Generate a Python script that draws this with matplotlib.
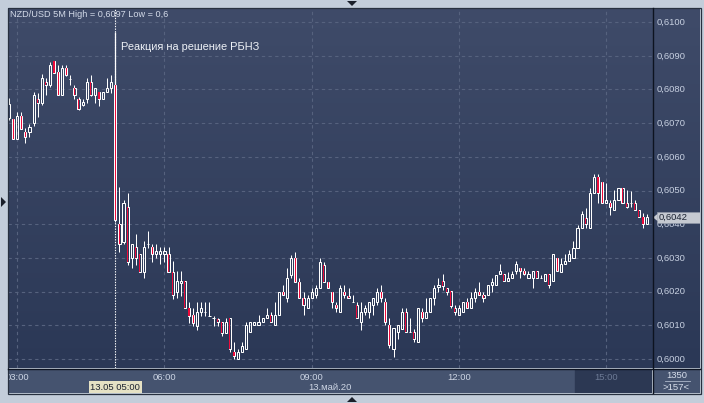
import numpy as np
import matplotlib
matplotlib.use("Agg")
import matplotlib.pyplot as plt
from matplotlib.colors import LinearSegmentedColormap
from matplotlib.patches import Polygon, Rectangle

# ---------------- data ----------------
symbol = "NZD/USD 5M"
header_high = 0.6097
header_low = 0.6
base_price = 0.6000          # prices below are given in pips above this level
start_time = "02:50"         # time of the first bar
bar_minutes = 5

open_pips = [
    71.5, 71.2, 65.3, 72.1, 67.4, 67.4, 70.0, 77.2, 76.0, 82.2,
    81.3, 88.4, 85.2, 78.3, 86.4, 83.1, 80.4, 77.2, 75.4, 77.2,
    82.2, 78.3, 79.2, 77.2, 79.2, 80.4, 81.3, 40.1, 34.7, 45.1,
    30.0, 33.2, 31.2, 25.8, 34.1, 33.2, 31.2, 31.2, 31.2, 31.2,
    25.8, 19.9, 22.6, 23.1, 15.1, 13.1, 9.8, 13.9, 13.9, 12.8,
    12.2, 11.9, 11.0, 7.7, 12.2, 2.1, 0.0, 2.1, 3.0, 8.0,
    10.1, 10.1, 11.0, 12.2, 13.1, 10.1, 13.1, 19.9, 18.1, 24.9,
    30.0, 22.8, 18.1, 15.1, 18.1, 19.0, 21.1, 27.9, 22.8, 19.9,
    16.0, 13.9, 19.9, 18.7, 16.9, 16.0, 11.0, 13.9, 13.9, 16.0,
    16.9, 19.9, 16.9, 10.1, 3.0, 8.0, 8.9, 13.9, 8.0, 8.0,
    5.0, 13.9, 12.2, 13.9, 18.1, 21.4, 23.1, 21.1, 20.2, 15.1,
    13.1, 13.9, 16.9, 15.1, 18.1, 19.9, 19.0, 19.0, 22.0, 22.0,
    25.2, 25.2, 23.1, 24.0, 26.1, 27.0, 26.1, 24.0, 24.0, 26.1,
    24.0, 23.1, 25.2, 23.1, 30.0, 25.8, 28.2, 29.1, 30.0, 32.9,
    38.9, 41.8, 38.9, 49.3, 54.0, 52.5, 46.3, 46.3, 44.2, 47.2,
    50.7, 46.3, 46.3, 46.3, 44.2, 42.1, 40.1]
high_pips = [
    77.4, 71.2, 73.3, 73.3, 68.5, 69.7, 79.2, 78.9, 84.6, 83.4,
    88.1, 88.4, 87.2, 87.2, 87.2, 84.3, 81.3, 77.7, 77.2, 83.4,
    84.3, 80.4, 79.2, 79.2, 83.4, 84.3, 81.3, 51.0, 47.2, 49.3,
    34.1, 37.1, 31.2, 35.0, 38.0, 34.1, 34.1, 33.2, 33.2, 33.2,
    29.1, 26.1, 26.1, 23.1, 16.9, 15.1, 16.9, 16.9, 16.9, 16.9,
    12.8, 12.2, 11.0, 12.2, 12.2, 5.0, 3.0, 5.0, 11.0, 11.0,
    11.0, 13.1, 12.2, 15.1, 13.9, 16.9, 19.9, 22.0, 27.0, 30.9,
    31.8, 24.0, 19.9, 19.0, 21.1, 22.0, 30.0, 28.8, 22.8, 19.9,
    16.9, 22.0, 22.0, 21.1, 19.0, 16.9, 16.9, 16.0, 16.9, 18.1,
    21.1, 22.0, 18.1, 12.2, 9.2, 10.1, 15.1, 15.1, 12.2, 8.9,
    15.1, 15.1, 18.1, 18.1, 22.0, 24.0, 25.2, 21.1, 20.2, 16.0,
    16.0, 16.9, 18.1, 19.9, 21.1, 22.8, 19.9, 22.0, 24.0, 24.9,
    28.2, 25.2, 25.8, 26.1, 29.1, 27.0, 27.0, 26.1, 26.1, 26.1,
    24.9, 25.2, 25.2, 31.2, 30.0, 30.0, 31.2, 32.3, 35.0, 39.8,
    43.9, 44.8, 50.7, 54.9, 54.9, 52.5, 52.2, 47.2, 50.1, 50.7,
    50.7, 50.1, 49.9, 47.2, 44.2, 43.3, 43.0]
low_pips = [
    70.9, 65.3, 65.3, 68.2, 64.1, 65.9, 69.1, 71.8, 75.4, 78.3,
    80.7, 84.9, 78.3, 78.3, 84.0, 81.3, 77.2, 73.9, 75.1, 76.0,
    78.0, 76.0, 75.1, 77.2, 79.2, 78.9, 40.7, 31.8, 34.1, 27.9,
    27.0, 27.9, 25.8, 24.0, 32.9, 28.8, 30.0, 28.2, 28.8, 25.8,
    17.8, 18.1, 18.7, 15.1, 10.7, 9.8, 8.6, 12.8, 12.8, 12.8,
    9.8, 9.8, 6.8, 7.7, 2.1, 0.0, 0.0, 2.1, 3.0, 8.0,
    10.1, 10.1, 11.0, 12.2, 11.0, 10.1, 13.1, 19.0, 16.9, 24.0,
    22.8, 18.1, 13.1, 15.1, 18.1, 18.1, 21.1, 22.8, 21.1, 15.1,
    13.9, 13.9, 18.1, 18.1, 16.9, 12.2, 8.6, 13.1, 12.2, 13.1,
    16.0, 16.9, 10.1, 3.3, 0.6, 5.9, 8.9, 8.0, 8.0, 5.0,
    5.0, 11.0, 12.2, 13.9, 16.0, 19.9, 20.5, 19.0, 15.1, 13.1,
    13.1, 13.9, 15.1, 15.1, 16.9, 19.0, 16.9, 19.0, 19.9, 22.0,
    25.2, 23.1, 23.1, 24.0, 25.2, 24.0, 24.9, 24.0, 21.1, 24.0,
    24.0, 23.1, 21.1, 23.1, 26.1, 25.8, 28.2, 29.1, 30.0, 32.9,
    38.9, 38.9, 38.9, 49.3, 46.3, 46.3, 46.3, 42.7, 44.2, 47.2,
    46.3, 44.8, 45.1, 44.2, 42.1, 38.9, 40.1]
close_pips = [
    75.7, 65.3, 72.1, 68.2, 65.9, 68.8, 78.3, 76.0, 83.4, 81.3,
    87.2, 84.9, 78.3, 86.4, 84.3, 83.1, 78.3, 74.2, 76.3, 82.2,
    78.3, 80.4, 77.2, 79.2, 80.4, 82.2, 41.2, 34.1, 46.3, 28.8,
    34.1, 30.0, 25.8, 33.2, 34.1, 31.2, 32.0, 32.0, 32.0, 25.8,
    19.0, 23.1, 23.1, 15.1, 12.8, 10.7, 13.9, 15.1, 13.9, 12.8,
    12.2, 11.0, 7.7, 11.0, 3.0, 0.9, 2.1, 3.9, 10.1, 11.0,
    11.0, 11.0, 12.2, 13.1, 11.0, 13.1, 19.9, 19.0, 24.0, 30.0,
    22.8, 18.1, 16.0, 18.1, 19.9, 21.1, 28.8, 22.8, 21.1, 16.9,
    15.1, 21.1, 19.0, 18.1, 16.9, 12.2, 13.9, 15.1, 16.9, 18.1,
    19.9, 18.1, 11.0, 4.2, 9.2, 10.1, 13.9, 8.0, 8.0, 5.9,
    15.1, 12.2, 13.9, 18.1, 21.1, 22.0, 21.7, 19.9, 15.7, 13.9,
    15.1, 16.9, 15.1, 18.1, 19.9, 19.0, 18.1, 22.0, 22.8, 24.9,
    26.1, 23.1, 24.0, 25.2, 28.2, 26.1, 25.2, 25.2, 26.1, 24.0,
    24.0, 25.2, 22.0, 31.2, 26.1, 28.2, 29.1, 31.2, 32.9, 38.9,
    43.0, 40.1, 49.3, 54.0, 49.3, 46.3, 47.2, 45.1, 47.2, 50.7,
    46.3, 45.1, 46.3, 44.2, 42.1, 40.1, 42.0]

price_ticks = [0.6000, 0.6010, 0.6020, 0.6030, 0.6040, 0.6050,
               0.6060, 0.6070, 0.6080, 0.6090, 0.6100]
time_ticks = ["03:00", "06:00", "09:00", "12:00", "15:00"]
event_time = "05:00"
event_label = "Реакция на решение РБНЗ"
date_label = "13.май.20"
cursor_label = "13.05 05:00"
zoom_label = "1350"
bars_label = ">157<"

# ---------------- derived ----------------
o = base_price + np.array(open_pips) / 10000
h = base_price + np.array(high_pips) / 10000
l = base_price + np.array(low_pips) / 10000
c = base_price + np.array(close_pips) / 10000
n = len(o)
idx = np.arange(n)

def t2idx(t):
    hh, mm = map(int, t.split(":"))
    sh, sm = map(int, start_time.split(":"))
    return ((hh * 60 + mm) - (sh * 60 + sm)) / bar_minutes

fmt = lambda p: f"{p:.4f}".replace(".", ",")

# ---------------- style ----------------
FONT = ["Liberation Sans", "DejaVu Sans"]
plt.rcParams['font.family'] = FONT
W, H = 704, 403
fig = plt.figure(figsize=(W / 100, H / 100), dpi=100, facecolor="#c3cdda")

def fax(x0, y0, x1, y1):
    return fig.add_axes([x0 / W, 1 - y1 / H, (x1 - x0) / W, (y1 - y0) / H])

XL = (-0.25, n + 0.2)
YL = (0.59973, 0.61042)

# background gradient for plot + price panel
bg = fax(8, 8, 700, 368)
cmap = LinearSegmentedColormap.from_list("bg", ["#2b3856", "#3f4b69"])
bg.imshow(np.linspace(0, 1, 256).reshape(-1, 1), cmap=cmap, origin="lower",
          aspect="auto", extent=[0, 1, 0, 1])
bg.set_axis_off()

ax = fax(8, 8, 652, 368)
ax.set_facecolor("none")
ax.set_xlim(*XL)
ax.set_ylim(*YL)
for s in ax.spines.values():
    s.set_visible(False)
ax.set_xticks([]); ax.set_yticks([])

grid_kw = dict(color="#56627e", lw=0.8, dashes=(3, 3), zorder=1)
for p in price_ticks:
    ax.axhline(p, **grid_kw)
for t in time_ticks:
    ax.axvline(t2idx(t), **grid_kw)

# event line
ev = t2idx(event_time)
ax.axvline(ev, color="white", lw=0.8, dashes=(1.2, 1.2), zorder=2)
ax.vlines(ev, o[int(ev)], header_high, color="white", lw=0.9, zorder=2)
ax.annotate(event_label, xy=(ev, 0.892), xycoords=ax.get_xaxis_transform(),
            xytext=(6, 0), textcoords="offset pixels", va="center", ha="left",
            color="#eef1f6", fontsize=7.9)

# candles
up = c >= o
top = np.maximum(o, c)
bot = np.minimum(o, c)
ax.vlines(idx, top, h, color="white", lw=0.72, zorder=3)
ax.vlines(idx, l, bot, color="white", lw=0.72, zorder=3)
ax.bar(idx, top - bot, bottom=bot, width=0.52, facecolor="none",
       edgecolor="white", linewidth=0.72, zorder=4)
down = ~up
ax.bar(idx[down], (top - bot)[down], bottom=bot[down], width=0.26,
       facecolor="#ee0a3a", edgecolor="none", zorder=5)

ax.text(0.003, 0.981, f"{symbol} High = {fmt(header_high)} Low = {str(header_low).replace('.', ',')}",
        transform=ax.transAxes, ha="left", va="center", color="#d3dae8", fontsize=6.6)

# price panel
axp = fax(653, 8, 700, 368)
axp.set_facecolor("none")
axp.set_ylim(*YL)
axp.set_xlim(0, 1)
axp.set_axis_off()
for p in price_ticks:
    axp.text(0.07, p, fmt(p), ha="left", va="center", color="#c7d0e1", fontsize=6.8)
last = c[-1]
axp.add_patch(Rectangle((0.09, last - 0.00016), 0.95, 0.00032, facecolor="#c5c9d1",
                        edgecolor="#8e96a6", lw=0.5, zorder=5))
axp.add_patch(Polygon([[0.0, last], [0.1, last + 0.00011], [0.1, last - 0.00011]],
                      closed=True, facecolor="#c5c9d1", edgecolor="none", zorder=5))
axp.text(0.13, last, fmt(last), ha="left", va="center", color="#1b2332",
         fontsize=6.8, zorder=6)

# time panel
axt = fax(8, 369, 652, 393)
axt.set_facecolor("#45536f")
axt.set_xlim(*XL)
axt.set_ylim(0, 1)
axt.set_xticks([]); axt.set_yticks([])
for s in axt.spines.values():
    s.set_visible(False)
last_tick = t2idx(time_ticks[-1])
axt.axvspan(last_tick - 7.6, XL[1], color="#2c3853", zorder=1)
for t in time_ticks:
    x = t2idx(t)
    col = "#6c7a95" if t == time_ticks[-1] else "#cdd5e4"
    axt.text(x, 0.66, t, ha="center", va="center", color=col, fontsize=6.8, zorder=3)
axt.text(ev, 0.24, cursor_label, ha="center", va="center", color="#1e2430",
         fontsize=6.8, zorder=4,
         bbox=dict(boxstyle="square,pad=0.18", facecolor="#e5e1c4", edgecolor="none"))
axt.text(0.5, 0.24, date_label, transform=axt.transAxes, ha="center", va="center",
         color="#cdd5e4", fontsize=6.8, zorder=3)

# corner box
axc = fax(653, 369, 700, 393)
axc.set_facecolor("#45536f")
axc.set_xlim(0, 1); axc.set_ylim(0, 1)
axc.set_xticks([]); axc.set_yticks([])
for s in axc.spines.values():
    s.set_visible(False)
axc.text(0.5, 0.72, zoom_label, ha="center", va="center", color="#d6ddea", fontsize=6.8)
axc.text(0.5, 0.24, bars_label, ha="center", va="center", color="#d6ddea", fontsize=6.8)
axc.plot([0.25, 0.78], [0.5, 0.5], color="#aeb8ca", lw=0.6)

# frame lines
frame = fig.add_axes([0, 0, 1, 1], facecolor="none")
frame.set_xlim(0, W); frame.set_ylim(H, 0)
frame.set_axis_off()
frame.plot([652.5, 652.5], [8, 393], color="#0d1320", lw=1.0)
frame.plot([8, 700], [368.5, 368.5], color="#0d1320", lw=1.0)
frame.add_patch(Rectangle((7.5, 7.5), 693, 386, facecolor="none", edgecolor="#27303f", lw=0.9))
frame.add_patch(Polygon([[347, 1], [357, 1], [352, 6]], closed=True, facecolor="#1a1f2a"))
frame.add_patch(Polygon([[347, 402], [357, 402], [352, 397]], closed=True, facecolor="#1a1f2a"))
frame.add_patch(Polygon([[1, 197], [1, 207], [6, 202]], closed=True, facecolor="#1a1f2a"))

fig.savefig("out.png", dpi=100, facecolor=fig.get_facecolor())
